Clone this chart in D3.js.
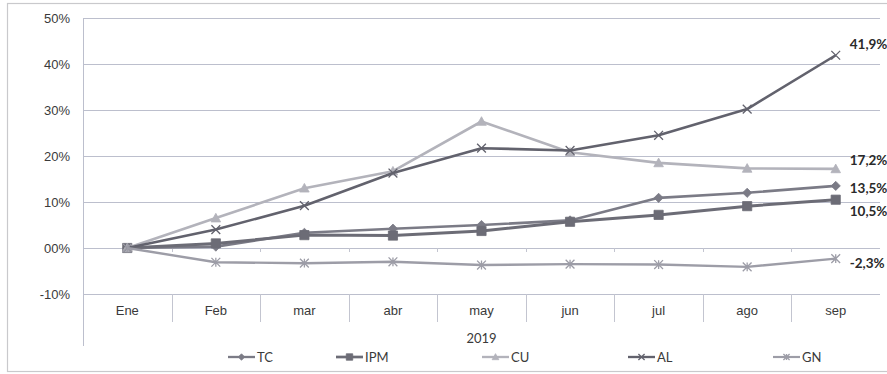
<!DOCTYPE html>
<html>
<head>
<meta charset="utf-8">
<script src="https://cdn.jsdelivr.net/npm/d3@7/dist/d3.min.js"></script>
<style>
  html, body { margin: 0; padding: 0; background: #fff; }
  svg { display: block; font-family: Lato, "Liberation Sans", sans-serif; }
</style>
</head>
<body>
<svg id="chart" width="887" height="374"></svg>
<script>
// Monthly categories and the outer group label
const months = ["Ene", "Feb", "mar", "abr", "may", "jun", "jul", "ago", "sep"];
const yearLabel = "2019";

// Cumulative variation per series (fractions)
const tcValues  = [0, 0.003, 0.033, 0.042, 0.050, 0.060, 0.109, 0.120, 0.135];
const ipmValues = [0, 0.010, 0.028, 0.027, 0.037, 0.057, 0.072, 0.091, 0.105];
const cuValues  = [0, 0.065, 0.130, 0.167, 0.275, 0.208, 0.185, 0.173, 0.172];
const alValues  = [0, 0.040, 0.092, 0.163, 0.217, 0.212, 0.245, 0.302, 0.419];
const gnValues  = [0, -0.031, -0.033, -0.030, -0.037, -0.035, -0.036, -0.041, -0.023];

// Axis ticks
const yTicks = [-0.1, 0, 0.1, 0.2, 0.3, 0.4, 0.5];
const yTickLabels = ["-10%", "00%", "10%", "20%", "30%", "40%", "50%"];

// End-of-line value labels
const endLabels = ["13,5%", "10,5%", "17,2%", "41,9%", "-2,3%"];

const seriesNames = ["TC", "IPM", "CU", "AL", "GN"];
const seriesValues = [tcValues, ipmValues, cuValues, alValues, gnValues];

// Presentation
const styles = {
  TC:  { color: "#7b7b86", marker: "diamond",  width: 2.6 },
  IPM: { color: "#6c6c76", marker: "square",   width: 3.0 },
  CU:  { color: "#b3b3bb", marker: "triangle", width: 2.6 },
  AL:  { color: "#62626d", marker: "cross",    width: 2.6 },
  GN:  { color: "#9d9da7", marker: "star",     width: 2.4 }
};
const labelDy = { TC: 2, IPM: 12, CU: -9, AL: -11, GN: 5 };
const legendX = { TC: 228, IPM: 336, CU: 482, AL: 628, GN: 773 };

const svg = d3.select("#chart");
const plot = { left: 83, right: 880, top: 18, bottom: 294 };

const x = d3.scaleBand().domain(months).range([plot.left, plot.right]).padding(0);
const y = d3.scaleLinear().domain([-0.1, 0.5]).range([plot.bottom, plot.top]);

// Outer frame
svg.append("rect")
  .attr("x", 7.5).attr("y", 3.5).attr("width", 890).attr("height", 368)
  .attr("fill", "none").attr("stroke", "#c9c9cc").attr("stroke-width", 1.2);

// Horizontal gridlines + y labels
const yAxis = d3.axisLeft(y).tickValues(yTicks)
  .tickFormat((d, i) => yTickLabels[i]).tickSize(-(plot.right - plot.left)).tickPadding(13);
const gy = svg.append("g").attr("transform", `translate(${plot.left},0)`).call(yAxis);
gy.select(".domain").remove();
gy.selectAll(".tick line").attr("stroke", "#bcbfcd").attr("stroke-width", 1);
gy.selectAll(".tick text").attr("fill", "#3a3a3a").attr("font-size", 13);

// Left axis line extends down through the category label area
svg.append("line")
  .attr("x1", plot.left + 0.5).attr("x2", plot.left + 0.5)
  .attr("y1", plot.top).attr("y2", 346)
  .attr("stroke", "#bcbfcd").attr("stroke-width", 1);

// Category separators below the axis
const bounds = months.slice(1).map(m => x(m));
svg.append("g").selectAll("line").data(bounds).join("line")
  .attr("x1", d => Math.round(d) + 0.5).attr("x2", d => Math.round(d) + 0.5)
  .attr("y1", plot.bottom).attr("y2", 322)
  .attr("stroke", "#c3c5d0").attr("stroke-width", 1);

// Small tick marks on the zero line
svg.append("g").selectAll("line").data(bounds).join("line")
  .attr("x1", d => Math.round(d) + 0.5).attr("x2", d => Math.round(d) + 0.5)
  .attr("y1", y(0)).attr("y2", y(0) + 4)
  .attr("stroke", "#c3c5d0").attr("stroke-width", 1);

// Category labels
const xAxis = d3.axisBottom(x).tickSize(0).tickPadding(12);
const gx = svg.append("g").attr("transform", `translate(0,${plot.bottom})`).call(xAxis);
gx.select(".domain").remove();
gx.selectAll(".tick text").attr("fill", "#3a3a3a").attr("font-size", 13);

svg.append("text")
  .attr("x", (plot.left + plot.right) / 2 + 0).attr("y", 343)
  .attr("text-anchor", "middle").attr("fill", "#3a3a3a").attr("font-size", 13)
  .text(yearLabel);

// Marker shapes
function markerPath(type, s) {
  switch (type) {
    case "diamond": return `M0,${-s}L${s},0L0,${s}L${-s},0Z`;
    case "square": return `M${-s},${-s}H${s}V${s}H${-s}Z`;
    case "triangle": return `M0,${-s}L${s},${s * 0.8}L${-s},${s * 0.8}Z`;
    case "cross": return `M${-s},${-s}L${s},${s}M${s},${-s}L${-s},${s}`;
    case "star": return `M${-s},${-s}L${s},${s}M${s},${-s}L${-s},${s}M0,${-s}V${s}`;
  }
}
function drawMarker(g, type, color, cx, cy, scale) {
  const sizes = { diamond: 4.6, square: 4.6, triangle: 4.8, cross: 4.4, star: 4.4 };
  const s = sizes[type] * scale;
  const p = g.append("path").attr("d", markerPath(type, s))
    .attr("transform", `translate(${cx},${cy})`);
  if (type === "cross" || type === "star") {
    p.attr("fill", "none").attr("stroke", color).attr("stroke-width", 1.3);
  } else {
    p.attr("fill", color).attr("stroke", color).attr("stroke-width", 0.8);
  }
}

// Series lines, drawn in legend order so later series sit on top
const line = d3.line().x((d, i) => x(months[i]) + x.bandwidth() / 2).y(d => y(d));
seriesNames.forEach((name, k) => {
  const st = styles[name];
  const vals = seriesValues[k];
  const g = svg.append("g");
  g.append("path").datum(vals).attr("d", line)
    .attr("fill", "none").attr("stroke", st.color)
    .attr("stroke-width", st.width).attr("stroke-linejoin", "round");
  vals.forEach((v, i) => drawMarker(g, st.marker, st.color, x(months[i]) + x.bandwidth() / 2, y(v), 1));
});

// Value labels at the last month
seriesNames.forEach((name, k) => {
  const vals = seriesValues[k];
  const last = vals[vals.length - 1];
  svg.append("text")
    .attr("x", x(months[months.length - 1]) + x.bandwidth() / 2 + 14)
    .attr("y", y(last) + labelDy[name])
    .attr("dy", "0.35em")
    .attr("fill", "#2a2a2a").attr("font-size", 13.5).attr("font-weight", "bold")
    .text(endLabels[k]);
});

// Legend
const legendY = 357;
seriesNames.forEach(name => {
  const st = styles[name];
  const lx = legendX[name];
  const g = svg.append("g");
  g.append("line").attr("x1", lx).attr("x2", lx + 27).attr("y1", legendY).attr("y2", legendY)
    .attr("stroke", st.color).attr("stroke-width", st.width * 0.9);
  drawMarker(g, st.marker, st.color, lx + 13.5, legendY, 0.7);
  g.append("text").attr("x", lx + 29).attr("y", legendY).attr("dy", "0.36em")
    .attr("fill", "#3a3a3a").attr("font-size", 13).text(name);
});
</script>
</body>
</html>
